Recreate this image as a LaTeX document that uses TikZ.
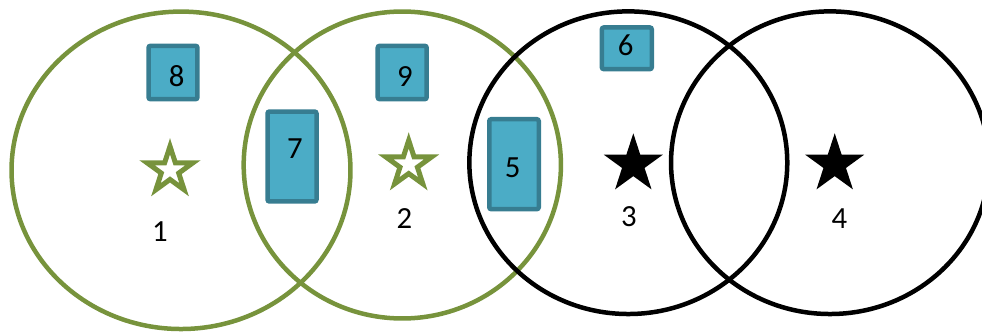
\documentclass[tikz,border=0pt]{standalone}
\usepackage{fontspec}
\setmainfont{Carlito}
\usepackage{xcolor}
\usepackage{tikz}
\usetikzlibrary{shapes.geometric, positioning, calc}

\definecolor{olive}{RGB}{119,147,60}
\definecolor{aqua}{RGB}{75,172,198}
\definecolor{aquadark}{RGB}{55,125,145}

\begin{document}
\begin{tikzpicture}[x=0.02cm, y=-0.02cm]
    \tikzstyle{greenset} = [ellipse, draw=olive, line width=0.09cm, inner sep=0pt]
    \tikzstyle{blackset} = [ellipse, draw=black, line width=0.09cm, inner sep=0pt]
    \tikzstyle{card} = [rectangle, rounded corners=0.04cm, draw=aquadark, fill=aqua, line width=0.09cm, inner sep=0pt, minimum width=0.98cm]
    \tikzstyle{hollowstar} = [star, star points=5, star point ratio=2.618, draw=olive, fill=white, line width=0.1cm, inner sep=0pt, minimum size=0.96cm]
    \tikzstyle{solidstar} = [star, star points=5, star point ratio=2.618, fill=black, inner sep=0pt, minimum size=1.24cm]
    \tikzstyle{num} = [inner sep=0pt, font=\fontsize{17.5}{20}\selectfont]

    \useasboundingbox (0,0) rectangle (982,334);

    % the four sets
    \node (set1) [greenset, minimum width=6.78cm, minimum height=6.35cm] at (181,170.3) {};
    \node (set2) [greenset, minimum width=6.346cm, minimum height=6.14cm] at (402.3,165) {};
    \node (set3) [blackset, minimum width=6.36cm, minimum height=6.054cm] at (628.3,162.7) {};
    \node (set4) [blackset, minimum width=6.36cm, minimum height=6.054cm] at (830,162.7) {};

    % stars and their numbers
    \node (star1) [hollowstar] at (170,170.3) {};
    \node (star2) [hollowstar] at (408.7,164.4) {};
    \node (star3) [solidstar] at (633.3,164.3) {};
    \node (star4) [solidstar] at (834.7,164.3) {};
    \node (lab1) [num] at (160,231.7) {1};
    \node (lab2) [num] at (404.3,219) {2};
    \node (lab3) [num] at (629,216.7) {3};
    \node (lab4) [num] at (839.3,219) {4};

    % boxes
    \node (box8) [card, minimum height=1.068cm] at (173,72.5) {};
    \node (box9) [card, minimum height=1.068cm] at (402.2,72.5) {};
    \node (box7) [card, minimum height=1.8cm] at (292,156.5) {};
    \node (box5) [card, minimum width=0.99cm, minimum height=1.8cm] at (514,164.2) {};
    \node (box6) [card, minimum width=1.0cm, minimum height=0.834cm] at (626.8,48.3) {};
    \node (num8) [num] at (176.7,76) {8};
    \node (num9) [num] at (405,76.7) {9};
    \node (num7) [num] at (295,149) {7};
    \node (num5) [num] at (512.7,167.7) {5};
    \node (num6) [num] at (625.7,45) {6};
\end{tikzpicture}
\end{document}
